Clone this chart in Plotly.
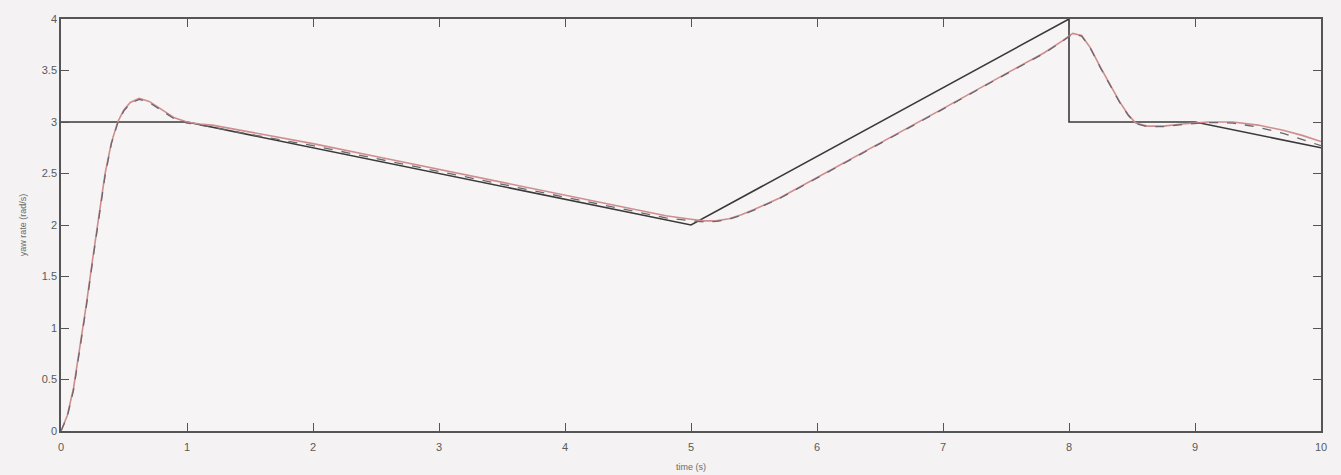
import plotly.graph_objects as go

# Reference yaw-rate command (rad/s)
ref_t = [0, 1, 5, 8, 8, 9, 10]
ref_y = [3, 3, 2, 4, 3, 3, 2.75]

# Measured response (red, solid)
meas_t = [0, 0.05, 0.1, 0.15, 0.2, 0.25, 0.3, 0.35, 0.4, 0.45, 0.5, 0.55, 0.62, 0.7, 0.8, 0.9, 1.0, 1.1, 1.2,
          1.5, 2, 2.5, 3, 3.5, 4, 4.5, 4.8, 5.0, 5.1, 5.2, 5.3, 5.4, 5.5, 5.7, 6, 6.5, 7, 7.5, 7.8, 7.95,
          8.03, 8.1, 8.17, 8.25, 8.33, 8.4, 8.47, 8.53, 8.62, 8.75, 8.9, 9.1, 9.3, 9.5, 9.7, 9.85, 10]
meas_y = [0, 0.15, 0.42, 0.8, 1.22, 1.66, 2.1, 2.5, 2.8, 3.0, 3.12, 3.19, 3.23, 3.2, 3.12, 3.04, 3.0, 2.98, 2.97,
          2.9, 2.79, 2.665, 2.54, 2.415, 2.29, 2.165, 2.09, 2.055, 2.04, 2.04, 2.06, 2.1, 2.15, 2.26, 2.46, 2.8,
          3.13, 3.47, 3.67, 3.79, 3.86, 3.84, 3.72, 3.53, 3.35, 3.2, 3.07, 2.99, 2.96, 2.96, 2.98, 3.0, 3.0,
          2.97, 2.92, 2.87, 2.81]

# Simulated response (dark, dashed)
sim_t = [0, 0.05, 0.1, 0.15, 0.2, 0.25, 0.3, 0.35, 0.4, 0.45, 0.5, 0.55, 0.62, 0.7, 0.8, 0.9, 1.0, 1.1, 1.2,
         1.5, 2, 2.5, 3, 3.5, 4, 4.5, 4.8, 5.0, 5.1, 5.2, 5.3, 5.4, 5.5, 5.7, 6, 6.5, 7, 7.5, 7.8, 7.95,
         8.03, 8.1, 8.17, 8.25, 8.33, 8.4, 8.47, 8.53, 8.62, 8.75, 8.9, 9.1, 9.3, 9.5, 9.7, 9.85, 10]
sim_y = [0, 0.14, 0.4, 0.78, 1.2, 1.64, 2.08, 2.48, 2.79, 2.99, 3.11, 3.18, 3.22, 3.19, 3.11, 3.03, 2.99, 2.97, 2.95,
         2.88, 2.77, 2.645, 2.52, 2.395, 2.27, 2.145, 2.07, 2.04, 2.03, 2.035, 2.055, 2.095, 2.145, 2.255, 2.455, 2.795,
         3.125, 3.465, 3.665, 3.785, 3.855, 3.835, 3.715, 3.525, 3.345, 3.195, 3.065, 2.985, 2.955, 2.955, 2.975, 2.995,
         2.99, 2.95, 2.89, 2.83, 2.77]

x_ticks = [0, 1, 2, 3, 4, 5, 6, 7, 8, 9, 10]
y_ticks = [0, 0.5, 1, 1.5, 2, 2.5, 3, 3.5, 4]
y_tick_text = ["0", "0.5", "1", "1.5", "2", "2.5", "3", "3.5", "4"]

fig = go.Figure()
fig.add_trace(go.Scatter(x=ref_t, y=ref_y, mode="lines", line=dict(color="#3a3a3a", width=1.6), name="reference"))
fig.add_trace(go.Scatter(x=meas_t, y=meas_y, mode="lines", line=dict(color="#cf8d8d", width=1.6), name="measured"))
fig.add_trace(go.Scatter(x=sim_t, y=sim_y, mode="lines", line=dict(color="#6a6670", width=1.3, dash="dash"),
                         name="simulated"))

font = dict(family="Liberation Sans, Arial, sans-serif", size=11, color="#5a5a5a")

fig.update_layout(
    width=1333, height=467,
    margin=dict(l=53, r=20, t=11, b=44),
    paper_bgcolor="#f4f2f2", plot_bgcolor="#f6f4f4",
    showlegend=False,
    font=font,
    xaxis=dict(range=[0, 10], tickvals=x_ticks, ticks="inside", ticklen=8, tickcolor="#555", automargin=False,
               ticklabelstandoff=5,
               showline=True, linecolor="#555", linewidth=1.5, mirror="ticks", showgrid=False, zeroline=False,
               title=dict(text="time (s)", font=dict(size=9, color="#6a6a6a"), standoff=12)),
    yaxis=dict(range=[0, 4], tickvals=y_ticks, ticktext=y_tick_text, ticks="inside", ticklen=8, tickcolor="#555",
               automargin=False,
               showline=True, linecolor="#555", linewidth=1.5, mirror="ticks", showgrid=False, zeroline=False,
               title=dict(text="yaw rate (rad/s)", font=dict(size=9, color="#6a6a6a"), standoff=14)),
)

fig.write_html("out.html", post_script="document.body.style.background='#f4f2f2';")
